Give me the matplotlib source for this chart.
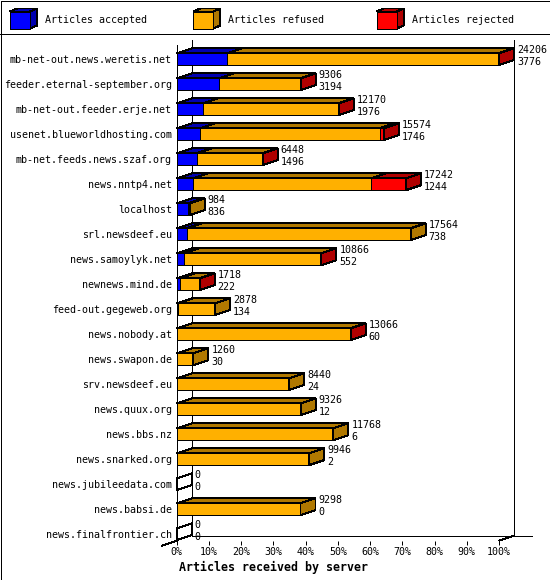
import matplotlib
matplotlib.use("Agg")
import matplotlib.pyplot as plt
from matplotlib.patches import Polygon, Rectangle

# data
hosts = [
    "mb-net-out.news.weretis.net", "feeder.eternal-september.org",
    "mb-net-out.feeder.erje.net", "usenet.blueworldhosting.com",
    "mb-net.feeds.news.szaf.org", "news.nntp4.net", "localhost",
    "srl.newsdeef.eu", "news.samoylyk.net", "newnews.mind.de",
    "feed-out.gegeweb.org", "news.nobody.at", "news.swapon.de",
    "srv.newsdeef.eu", "news.quux.org", "news.bbs.nz", "news.snarked.org",
    "news.jubileedata.com", "news.babsi.de", "news.finalfrontier.ch",
]
offered = [24206, 9306, 12170, 15574, 6448, 17242, 984, 17564, 10866, 1718,
           2878, 13066, 1260, 8440, 9326, 11768, 9946, 0, 9298, 0]
accepted = [3776, 3194, 1976, 1746, 1496, 1244, 836, 738, 552, 222,
            134, 60, 30, 24, 12, 6, 2, 0, 0, 0]
refused = [20380, 6082, 10154, 13498, 4922, 13358, 148, 16826, 10284, 1471,
           2744, 12981, 1230, 8416, 9314, 11762, 9944, 0, 9298, 0]
rejected = [50, 30, 40, 330, 30, 2640, 0, 0, 30, 25,
            0, 25, 0, 0, 0, 0, 0, 0, 0, 0]

series_names = ["Articles accepted", "Articles refused", "Articles rejected"]
series_colors = ["#0000ff", "#ffb000", "#ff0000"]
series_shade = ["#0000b0", "#b07800", "#b00000"]
tick_pcts = [0, 10, 20, 30, 40, 50, 60, 70, 80, 90, 100]
x_title = "Articles received by server"

W, H, DPI = 550, 580, 100
LW = 72 / DPI  # one pixel
FS = 7.2       # 6 px per character in DejaVu Sans Mono


def px_box(left, top, right, bottom):
    return [left / W, 1 - bottom / H, (right - left) / W, (bottom - top) / H]


def poly(ax, pts, fc, z=3):
    p = Polygon(pts, closed=True, facecolor=fc, edgecolor="black", lw=LW,
                antialiased=False, clip_on=False, zorder=z)
    ax.add_patch(p)


def line(ax, xs, ys, z=1):
    ax.plot(xs, ys, color="black", lw=LW, antialiased=False, clip_on=False,
            zorder=z, solid_capstyle="butt")


plt.rcParams["font.family"] = ["DejaVu Sans Mono"]
fig = plt.figure(figsize=(W / DPI, H / DPI), dpi=DPI)

# background: border, legend strip
bg = fig.add_axes([0, 0, 1, 1])
bg.set_xlim(0, W)
bg.set_ylim(H, 0)
bg.axis("off")
bg.add_patch(Rectangle((0.5, 0.5), W - 1, H - 1, fill=False, lw=LW,
                       ec="black", antialiased=False))
line(bg, [0, W], [34, 34])

for name, col, shade, x0 in zip(series_names, series_colors, series_shade,
                                [10, 193.3, 376.7]):
    top, bot, w, d, e = 11.5, 28.5, 20, 7, 3
    poly(bg, [(x0, top), (x0 + d, top - e), (x0 + w + d, top - e), (x0 + w, top)], shade)
    poly(bg, [(x0 + w, top), (x0 + w + d, top - e), (x0 + w + d, bot - e), (x0 + w, bot)], shade)
    poly(bg, [(x0, top), (x0 + w, top), (x0 + w, bot), (x0, bot)], col)
    bg.text(x0 + 35, 20, name, fontsize=FS, va="center", ha="left")

# main plot
ax_left, ax_right, ax_top, ax_bottom = 176.7, 499.0, 45.0, 540.7
row0_px, row_step = 59.2, 25.0
ax = fig.add_axes(px_box(ax_left, ax_top, ax_right, ax_bottom))
ax.patch.set_visible(False)
ax.set_xlim(0, 100)
y_bot = (ax_bottom - row0_px) / row_step
y_top = (ax_top - row0_px) / row_step
ax.set_ylim(y_bot, y_top)

px_x = (ax_right - ax_left) / 100.0
DX = 15 / px_x
DY = 5 / row_step
HALF = 5.9 / row_step

# walls and floor
line(ax, [DX, DX], [y_top - DY, y_bot - DY])
line(ax, [100 + DX, 100 + DX], [y_top - DY, y_bot - DY])
line(ax, [DX, 100 + DX + 18 / px_x], [y_bot - DY, y_bot - DY])
line(ax, [-DX, 0], [y_bot + DY, y_bot])
line(ax, [100, 100 + DX], [y_bot, y_bot - DY])

max_total = max(offered)
for i in range(len(hosts)):
    vals = [accepted[i], refused[i], rejected[i]]
    yt, yb = i - HALF, i + HALF
    x0 = 0.0
    last = None
    for k, v in enumerate(vals):
        if v <= 0:
            continue
        x1 = x0 + v / max_total * 100
        poly(ax, [(x0, yt), (x0 + DX, yt - DY), (x1 + DX, yt - DY), (x1, yt)], series_shade[k])
        poly(ax, [(x0, yt), (x1, yt), (x1, yb), (x0, yb)], series_colors[k])
        last = k
        x0 = x1
    side_fc = series_shade[last] if last is not None else "none"
    poly(ax, [(x0, yt), (x0 + DX, yt - DY), (x0 + DX, yb - DY), (x0, yb)], side_fc)

    xe = offered[i] / max_total * 100 + DX + 3 / px_x
    ax.text(xe, i - 9.2 / row_step, str(offered[i]), fontsize=FS,
            va="center", ha="left", clip_on=False, zorder=5)
    ax.text(xe, i + 2.5 / row_step, str(accepted[i]), fontsize=FS,
            va="center", ha="left", clip_on=False, zorder=5)

for s in ["top", "right", "bottom"]:
    ax.spines[s].set_visible(False)
ax.spines["left"].set_linewidth(LW)
ax.spines["left"].set_antialiased(False)

ax.set_xticks(tick_pcts)
ax.set_xticklabels([f"{p}%" for p in tick_pcts])
ax.tick_params(axis="x", direction="out", length=4.3 * LW, width=LW, pad=1.5,
               labelsize=FS)
ax.set_yticks(range(len(hosts)))
ax.set_yticklabels(hosts)
ax.tick_params(axis="y", length=0, pad=3.6, labelsize=FS)

fig.text(179 / W, 1 - 567 / H, x_title, fontsize=8.4, fontweight="bold",
         ha="left", va="center")

fig.savefig("out.png", dpi=DPI)
